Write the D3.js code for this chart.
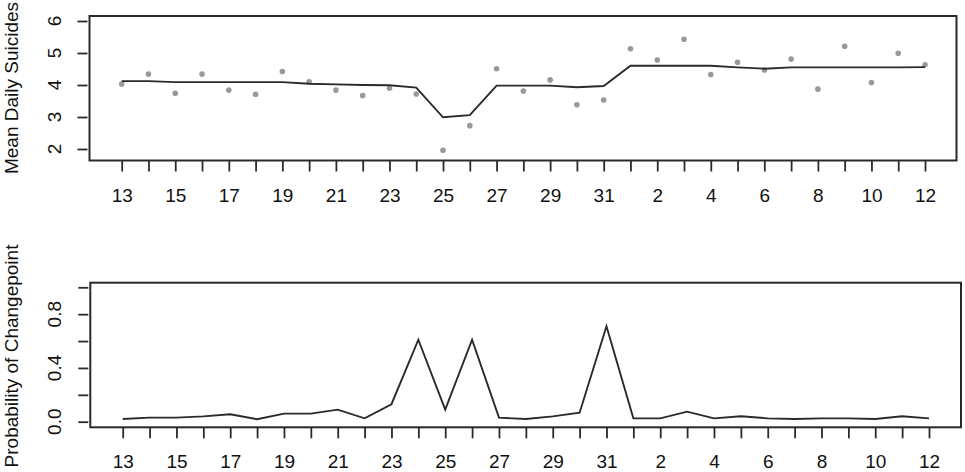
<!DOCTYPE html>
<html>
<head>
<meta charset="utf-8">
<script src="https://cdn.jsdelivr.net/npm/d3@7"></script>
<style>
  html, body { margin: 0; padding: 0; background: #fff; }
  svg { display: block; font-family: Arial, "Liberation Sans", sans-serif; }
</style>
</head>
<body>
<svg id="chart" width="965" height="472"></svg>
<script>
// days from the 13th through the 12th of the next month
const days = ["13","14","15","16","17","18","19","20","21","22","23","24","25","26","27","28","29","30","31",
              "1","2","3","4","5","6","7","8","9","10","11","12"];

// observed mean daily suicides (grey points)
const observed = [4.03, 4.34, 3.74, 4.34, 3.84, 3.71, 4.42, 4.10, 3.84, 3.67, 3.90, 3.72, 1.96, 2.73, 4.51,
                  3.81, 4.16, 3.38, 3.53, 5.13, 4.78, 5.43, 4.33, 4.71, 4.47, 4.81, 3.87, 5.21, 4.08, 4.99, 4.63];

// posterior mean (line)
const fitted = [4.12, 4.12, 4.09, 4.09, 4.09, 4.09, 4.09, 4.04, 4.02, 4.00, 3.99, 3.92, 2.99, 3.06, 3.98,
                3.98, 3.98, 3.93, 3.97, 4.60, 4.60, 4.60, 4.60, 4.55, 4.51, 4.55, 4.55, 4.55, 4.55, 4.55, 4.56];

// posterior probability of a changepoint
const probChange = [0.02, 0.03, 0.03, 0.04, 0.055, 0.018, 0.06, 0.06, 0.09, 0.025, 0.13, 0.61, 0.09, 0.61, 0.03,
                    0.02, 0.04, 0.067, 0.71, 0.025, 0.025, 0.075, 0.025, 0.04, 0.025, 0.02, 0.025, 0.025, 0.02, 0.04, 0.025];

const topTicks = [2, 3, 4, 5, 6];
const bottomTicks = [0, 0.2, 0.4, 0.6, 0.8, 1.0];
const bottomLabels = [0, 0.4, 0.8];

const svg = d3.select("#chart");
const ink = "#2a2a2a";
const fontSize = 19;

function drawPanel(opts) {
  const { x, y, box, yTicks, yLabelVals, yFmt, title } = opts;
  const g = svg.append("g");

  // x axis: tick every day, label every second day
  const xa = g.append("g")
    .attr("transform", `translate(0,${box.bottom})`)
    .call(d3.axisBottom(x)
      .tickValues(d3.range(days.length))
      .tickSize(11)
      .tickSizeOuter(0)
      .tickFormat(i => (i % 2 === 0 ? days[i] : "")));
  xa.select(".domain").remove();
  xa.selectAll("line").attr("stroke", ink).attr("stroke-width", 1.8);
  xa.selectAll("text")
    .attr("y", opts.xLabelY - box.bottom)
    .attr("dy", null)
    .attr("fill", "#111")
    .attr("font-size", fontSize)
    .attr("font-family", "Arial, 'Liberation Sans', sans-serif");

  // y axis ticks (slightly detached from the box like the original)
  const ya = g.append("g")
    .attr("transform", `translate(${box.left - 2},0)`)
    .call(d3.axisLeft(y).tickValues(yTicks).tickSize(10).tickSizeOuter(0).tickFormat(""));
  ya.select(".domain").remove();
  ya.selectAll("line").attr("stroke", ink).attr("stroke-width", 1.8);

  g.selectAll("text.ylab")
    .data(yLabelVals)
    .enter()
    .append("text")
    .attr("class", "ylab")
    .attr("transform", d => `translate(61,${y(d)}) rotate(-90)`)
    .attr("text-anchor", "middle")
    .attr("font-size", fontSize)
    .attr("fill", "#111")
    .text(yFmt);

  g.append("text")
    .attr("transform", `translate(18,${opts.titleY}) rotate(-90)`)
    .attr("text-anchor", "middle")
    .attr("font-size", fontSize)
    .attr("fill", "#111")
    .text(title);

  g.append("rect")
    .attr("x", box.left)
    .attr("y", box.top)
    .attr("width", box.right - box.left)
    .attr("height", box.bottom - box.top)
    .attr("fill", "none")
    .attr("stroke", ink)
    .attr("stroke-width", 2);

  return g;
}

// ---- top panel ----
const x1 = d3.scaleLinear().domain([0, days.length - 1]).range([121.7, 925]);
const y1 = d3.scaleLinear().domain([2, 6]).range([149, 21]);
const g1 = drawPanel({
  x: x1, y: y1,
  box: { left: 89.5, right: 956.5, top: 16, bottom: 160.5 },
  yTicks: topTicks, yLabelVals: topTicks, yFmt: d => d,
  xLabelY: 202,
  titleY: 88,
  title: "Mean Daily Suicides"
});

g1.selectAll("circle")
  .data(observed)
  .enter()
  .append("circle")
  .attr("cx", (d, i) => x1(i))
  .attr("cy", d => y1(d))
  .attr("r", 2.8)
  .attr("fill", "#999");

g1.append("path")
  .datum(fitted)
  .attr("fill", "none")
  .attr("stroke", ink)
  .attr("stroke-width", 1.9)
  .attr("d", d3.line().x((d, i) => x1(i)).y(d => y1(d)));

// ---- bottom panel ----
const x2 = d3.scaleLinear().domain([0, days.length - 1]).range([122.7, 929]);
const y2 = d3.scaleLinear().domain([0, 1]).range([421.7, 287.3]);
const g2 = drawPanel({
  x: x2, y: y2,
  box: { left: 90.3, right: 961, top: 282.7, bottom: 427.3 },
  yTicks: bottomTicks, yLabelVals: bottomLabels, yFmt: d3.format(".1f"),
  xLabelY: 468,
  titleY: 356,
  title: "Probability of Changepoint"
});

g2.append("path")
  .datum(probChange)
  .attr("fill", "none")
  .attr("stroke", ink)
  .attr("stroke-width", 1.9)
  .attr("d", d3.line().x((d, i) => x2(i)).y(d => y2(d)));
</script>
</body>
</html>
